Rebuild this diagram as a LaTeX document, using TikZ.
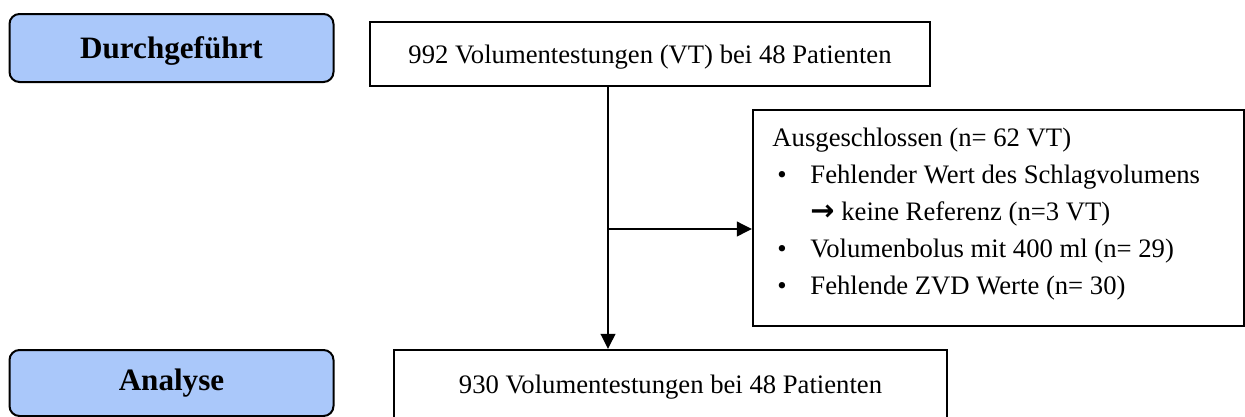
\documentclass[tikz,border=0pt]{standalone}
\usepackage{fontspec}
\setmainfont{Liberation Serif}
\newfontfamily\arrowfont{DejaVu Sans}
\usetikzlibrary{arrows.meta}
\definecolor{phase}{RGB}{170,200,250}
\tikzset{
  px/.style={x=0.45pt,y=-0.45pt},
  phasebox/.style={draw=black,line width=0.9pt,fill=phase,rounded corners=4.5pt,
    font=\fontsize{14}{16}\selectfont\bfseries,inner sep=0pt},
  flowbox/.style={draw=black,line width=0.9pt,fill=white,inner sep=0pt,
    font=\fontsize{12}{14}\selectfont},
  flowarrow/.style={line width=1.1pt,-{Triangle[length=6.8pt,width=6.5pt]}},
}
\begin{document}
\begin{tikzpicture}[px]
\useasboundingbox (0,0) rectangle (1245,416);
\clip (0,0) rectangle (1245,416);
\node[phasebox,minimum width=324*0.45pt,minimum height=68*0.45pt,text depth=0pt] (dur) at (171.5,48) {Durchgeführt};
\node[phasebox,minimum width=324*0.45pt,minimum height=66*0.45pt] (ana) at (171.5,383) {Analyse};
\node[flowbox,minimum width=560*0.45pt,minimum height=64*0.45pt,text depth=0pt] (top) at (650,54) {992 Volumentestungen (VT) bei 48 Patienten};
\node[flowbox,minimum width=553*0.45pt,minimum height=74*0.45pt] (bot) at (670.5,387) {930 Volumentestungen bei 48 Patienten};
\node[flowbox,minimum width=491*0.45pt,minimum height=216*0.45pt] (excl) at (998.5,218) {};
\node[anchor=base west,inner sep=0pt,align=left,font=\fontsize{12}{16.65}\selectfont] (excltxt) at (772,294)
 {Ausgeschlossen (n= 62 VT)\\
  \makebox[17.1pt][l]{\hspace{2.25pt}•}Fehlender Wert des Schlagvolumens\\
  \hspace*{17.1pt}{\arrowfont\bfseries\fontsize{13}{14}\selectfont →} keine Referenz (n=3 VT)\\
  \makebox[17.1pt][l]{\hspace{2.25pt}•}Volumenbolus mit 400 ml (n= 29)\\
  \makebox[17.1pt][l]{\hspace{2.25pt}•}Fehlende ZVD Werte (n= 30)};
\coordinate (j) at (608,229);
\draw[flowarrow] (top.south -| j) -- (bot.north -| j);
\draw[flowarrow] (j) -- (j -| excl.west);
\end{tikzpicture}
\end{document}
